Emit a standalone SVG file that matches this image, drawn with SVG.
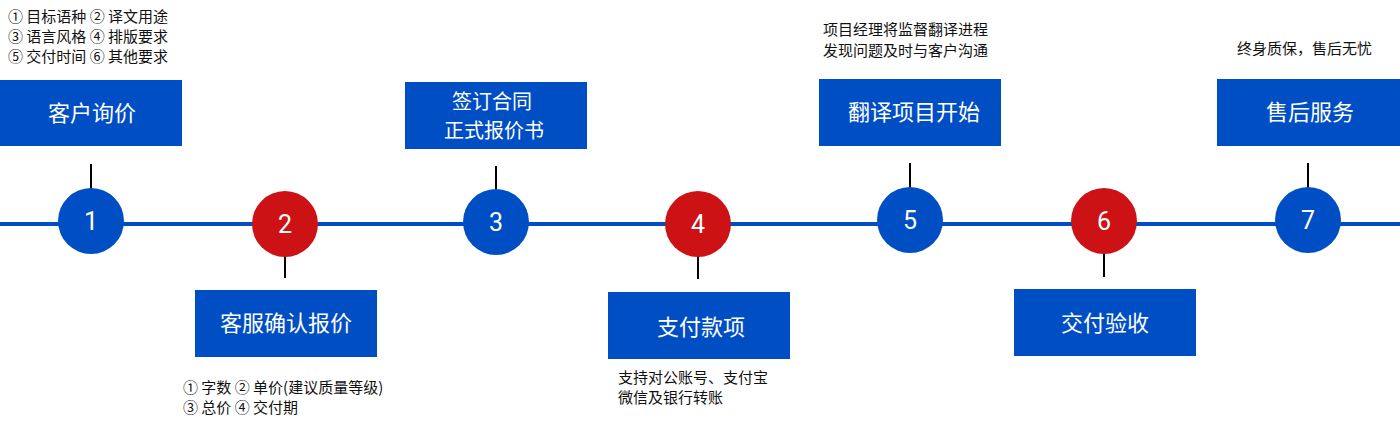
<svg xmlns="http://www.w3.org/2000/svg" width="1400" height="427" viewBox="0 0 1400 427">
<style>
.box{fill:#004EC4}
.blue{fill:#004EC4}
.red{fill:#CC1214}
.stem{stroke:#000;stroke-width:2}
.axis{stroke:#004EC4;stroke-width:4}
.bt{font-family:"Noto Sans CJK SC","Noto Sans",sans-serif;font-size:22px;fill:#fff;text-anchor:middle}
.bt2{font-family:"Noto Sans CJK SC","Noto Sans",sans-serif;font-size:20px;fill:#fff;text-anchor:middle}
.num{font-family:Roboto,"Noto Sans",sans-serif;font-size:25px;fill:#fff;text-anchor:middle}
.note{font-family:"Noto Sans CJK SC","Noto Sans",sans-serif;font-size:15px;fill:#111}
</style>
<rect width="1400" height="427" fill="#fff"/>
<g id="connectors">
<line class="axis" x1="0" y1="224" x2="1400" y2="224"/>
<line class="stem" x1="91" y1="164" x2="91" y2="189"/>
<line class="stem" x1="285" y1="256" x2="285" y2="278"/>
<line class="stem" x1="496" y1="166" x2="496" y2="189"/>
<line class="stem" x1="698" y1="256" x2="698" y2="279"/>
<line class="stem" x1="910" y1="163" x2="910" y2="188"/>
<line class="stem" x1="1104" y1="254" x2="1104" y2="277"/>
<line class="stem" x1="1308" y1="163" x2="1308" y2="188"/>
</g>
<g id="step1">
<text class="note" x="8" y="22">① 目标语种 ② 译文用途</text>
<text class="note" x="8" y="42">③ 语言风格 ④ 排版要求</text>
<text class="note" x="8" y="62">⑤ 交付时间 ⑥ 其他要求</text>
<rect class="box" x="0" y="80" width="182" height="66"/>
<text class="bt" x="92" y="121">客户询价</text>
<circle class="blue" cx="91" cy="221" r="33"/>
<text class="num" x="91" y="230">1</text>
</g>
<g id="step2">
<circle class="red" cx="285" cy="224" r="33"/>
<text class="num" x="285" y="233">2</text>
<rect class="box" x="195" y="290" width="182" height="67"/>
<text class="bt" x="286" y="331">客服确认报价</text>
<text class="note" x="183" y="393">① 字数 ② 单价(建议质量等级)</text>
<text class="note" x="183" y="413">③ 总价 ④ 交付期</text>
</g>
<g id="step3">
<rect class="box" x="405" y="82" width="182" height="67"/>
<text class="bt2" x="492" y="109">签订合同</text>
<text class="bt2" x="494" y="138">正式报价书</text>
<circle class="blue" cx="496" cy="222" r="33"/>
<text class="num" x="496" y="231">3</text>
</g>
<g id="step4">
<circle class="red" cx="698" cy="224" r="33"/>
<text class="num" x="698" y="233">4</text>
<rect class="box" x="608" y="292" width="182" height="67"/>
<text class="bt" x="701" y="335">支付款项</text>
<text class="note" x="618" y="383">支持对公账号、支付宝</text>
<text class="note" x="618" y="403">微信及银行转账</text>
</g>
<g id="step5">
<text class="note" x="823" y="35">项目经理将监督翻译进程</text>
<text class="note" x="823" y="56">发现问题及时与客户沟通</text>
<rect class="box" x="819" y="79" width="182" height="67"/>
<text class="bt" x="914" y="120">翻译项目开始</text>
<circle class="blue" cx="910" cy="220" r="33"/>
<text class="num" x="910" y="229">5</text>
</g>
<g id="step6">
<circle class="red" cx="1104" cy="221" r="33"/>
<text class="num" x="1104" y="230">6</text>
<rect class="box" x="1014" y="289" width="182" height="67"/>
<text class="bt" x="1105" y="331">交付验收</text>
</g>
<g id="step7">
<text class="note" x="1237" y="54">终身质保，售后无忧</text>
<rect class="box" x="1217" y="79" width="183" height="67"/>
<text class="bt" x="1310" y="120">售后服务</text>
<circle class="blue" cx="1308" cy="220" r="33"/>
<text class="num" x="1308" y="229">7</text>
</g>
</svg>
